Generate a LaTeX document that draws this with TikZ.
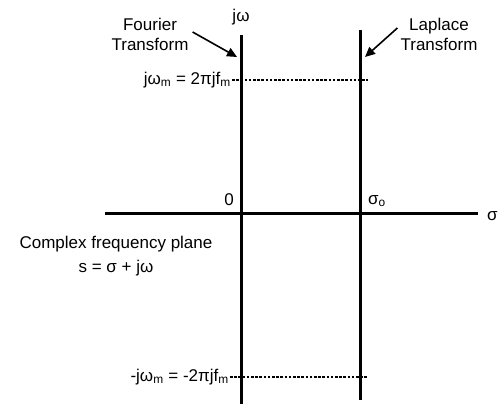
\documentclass[tikz,border=0pt]{standalone}
\usepackage{fontspec}
\setmainfont{Liberation Sans}
\usetikzlibrary{arrows.meta}

\begin{document}
\begin{tikzpicture}[x=1pt, y=-1pt,
  axisline/.style={line width=3pt},
  dotline/.style={line width=2.6pt, dash pattern=on 2.6pt off 1.6pt},
  pointer/.style={line width=1.6pt, -{Triangle[length=10pt,width=9pt]}},
  lbl/.style={font=\fontsize{17}{20}\selectfont, inner sep=1pt, align=center}]
  \def\xf{241} \def\xl{360} \def\ya{214}

  \useasboundingbox (0,0) rectangle (499,404);

  % axes
  \coordinate (ftop) at (\xf,35);  \coordinate (fbot) at (\xf,404);
  \coordinate (ltop) at (\xl,30);  \coordinate (lbot) at (\xl,400);
  \coordinate (sleft) at (105,\ya); \coordinate (sright) at (478,\ya);
  \draw[axisline] (ftop) -- (fbot);
  \draw[axisline] (ltop) -- (lbot);
  \draw[axisline] (sleft) -- (sright);
  \node[lbl] (jw) at (\xf,17) {jω};
  \node[lbl, anchor=west] (sigma) at (486,216) {σ};
  \node[lbl] (zero) at (229,200) {0};
  \node[lbl] (sigo) at (377,201) {σ\textsubscript{o}};

  % limits of the band
  \node[lbl, anchor=east] (wmax) at (232,80) {jω\textsubscript{m} = 2πjf\textsubscript{m}};
  \coordinate (wmaxend) at (368,80);
  \draw[dotline] (wmax.east) -- (wmaxend);
  \node[lbl, anchor=east] (wmin) at (230,377) {-jω\textsubscript{m} = -2πjf\textsubscript{m}};
  \coordinate (wminend) at (367,377);
  \draw[dotline] (wmin.east) -- (wminend);

  % transforms
  \node[lbl] (fourier) at (150,34) {Fourier\\Transform};
  \coordinate (ftip) at (237,57);
  \draw[pointer] ([shift={(3pt,2pt)}]fourier.east) -- (ftip);
  \node[lbl] (laplace) at (439,34) {Laplace\\Transform};
  \coordinate (ltip) at (365,57);
  \draw[pointer] ([shift={(-2pt,6pt)}]laplace.west) -- (ltip);

  % plane
  \node[lbl] (plane) at (116,244) {Complex frequency plane};
  \node[lbl] (sdef) at (116,268) {s = σ + jω};
\end{tikzpicture}
\end{document}
